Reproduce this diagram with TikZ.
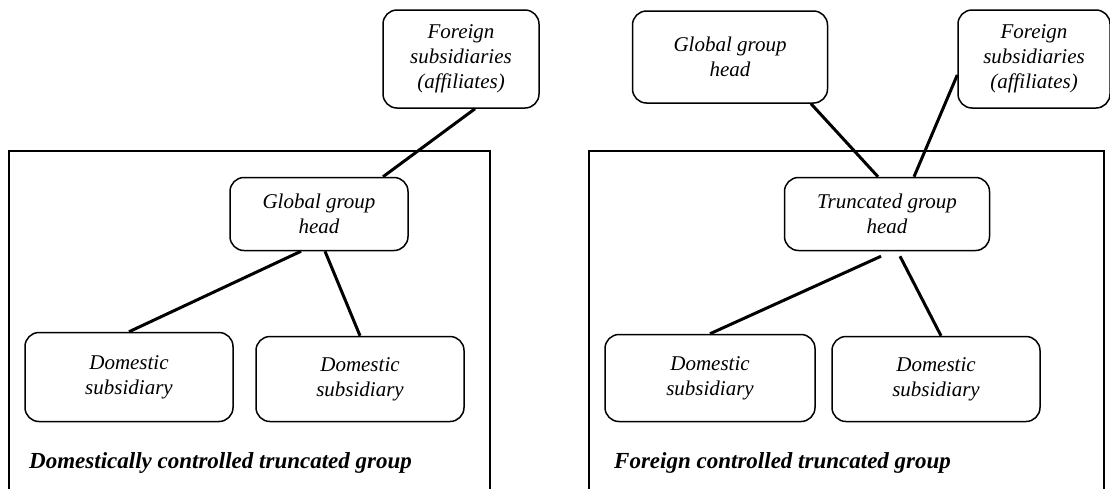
\documentclass[tikz,border=0pt]{standalone}
\usepackage{fontspec}
\setmainfont{Liberation Serif}
\usetikzlibrary{positioning}

\begin{document}
\begin{tikzpicture}[x=1pt, y=-1pt,
    every node/.style={font=\itshape\fontsize{21}{25}\selectfont, align=center},
    unit/.style={draw, line width=1.5pt, rounded corners=14pt, inner sep=0pt},
    link/.style={line width=3pt},
    frame/.style={line width=1.5pt},
    caption/.style={font=\bfseries\itshape\fontsize{23}{26}\selectfont, anchor=base west, inner sep=0pt}]

    \useasboundingbox (0,0) rectangle (1110,488);

    % domestically controlled group
    \draw[frame] (9,492) -- (9,151) -- (490,151) -- (490,492);
    \node (foreignL) [unit, minimum width=156, minimum height=98] at (461,59)  {Foreign\\subsidiaries\\(affiliates)};
    \node (globalL)  [unit, minimum width=178, minimum height=73] at (319,214) {Global group\\head};
    \node (domLa)    [unit, minimum width=208, minimum height=89] at (129,377) {Domestic\\subsidiary};
    \node (domLb)    [unit, minimum width=208, minimum height=85] at (360,379) {Domestic\\subsidiary};
    \node (domcap)   [caption] at (29,468) {Domestically controlled truncated group};

    \draw[link] ([xshift=14]foreignL.south) -- ([xshift=64]globalL.north);
    \draw[link] ([xshift=-18]globalL.south) -- (domLa.north);
    \draw[link] ([xshift=6]globalL.south)   -- (domLb.north);

    % foreign controlled group
    \draw[frame] (589,492) -- (589,151) -- (1104,151) -- (1104,492);
    \node (globalR)  [unit, minimum width=195, minimum height=92] at (730,57)  {Global group\\head};
    \node (foreignR) [unit, minimum width=152, minimum height=98] at (1034,59) {Foreign\\subsidiaries\\(affiliates)};
    \node (trunc)    [unit, minimum width=205, minimum height=73] at (887,214) {Truncated group\\head};
    \node (domRa)    [unit, minimum width=210, minimum height=87] at (710,378) {Domestic\\subsidiary};
    \node (domRb)    [unit, minimum width=208, minimum height=85] at (936,379) {Domestic\\subsidiary};
    \node (forcap)   [caption] at (614,468) {Foreign controlled truncated group};

    \draw[link] ([xshift=81]globalR.south) -- ([xshift=-9]trunc.north);
    \draw[link] ([yshift=-16]foreignR.west) -- ([xshift=27]trunc.north);
    \draw[link] ([xshift=-6,yshift=-5]trunc.south) -- (domRa.north);
    \draw[link] ([xshift=13,yshift=-5]trunc.south) -- ([xshift=5]domRb.north);
\end{tikzpicture}
\end{document}
